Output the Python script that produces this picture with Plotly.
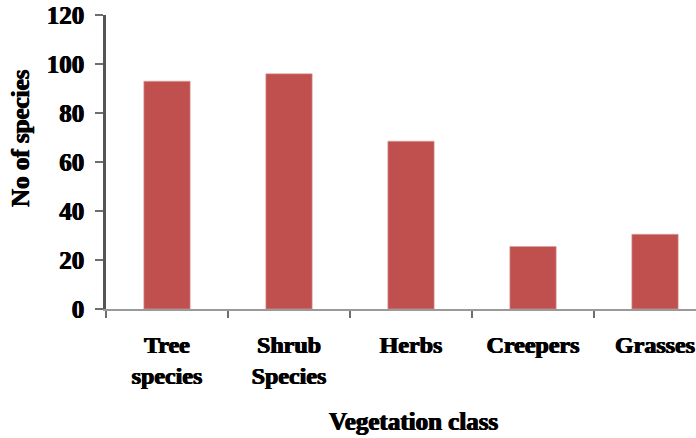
import plotly.graph_objects as go

# Number of species recorded in each vegetation class
categories = ["Tree<br>species", "Shrub<br>Species", "Herbs", "Creepers", "Grasses"]
species_counts = [93, 96, 68.5, 25.5, 30.5]
y_ticks = [0, 20, 40, 60, 80, 100, 120]

FONT = "'Liberation Serif', 'Times New Roman', Times, serif"
HEAVY = "0.6px 0 0 #000, -0.6px 0 0 #000"  # thickens the bold serif strokes
BAR_COLOR = "#C0504D"
AXIS_COLOR = "#6e6e6e"

W, H = 696, 438
ML, MR, MT, MB = 106, 0, 15, 129


def text_font(size):
    return dict(family=FONT, size=size, color="black", shadow=HEAVY)


fig = go.Figure(
    go.Bar(
        x=categories,
        y=species_counts,
        width=0.38,
        marker=dict(color=BAR_COLOR, line=dict(color="#d9a5a4", width=0.6)),
    )
)

fig.update_layout(
    width=W,
    height=H,
    margin=dict(l=ML, r=MR, t=MT, b=MB),
    paper_bgcolor="white",
    plot_bgcolor="white",
    showlegend=False,
    font=dict(family=FONT, size=23, color="black"),
    xaxis=dict(
        type="category",
        tickmode="array",
        tickvals=categories,
        ticktext=[f"<b>{c}</b>" for c in categories],
        range=[-0.5, 4.336],
        tickson="boundaries",
        ticks="outside",
        ticklen=7,
        tickwidth=2,
        tickcolor=AXIS_COLOR,
        showline=True,
        linecolor="#9a9a9a",
        linewidth=2,
        showgrid=False,
        zeroline=False,
        ticklabelstandoff=13,
        tickfont=text_font(24),
    ),
    yaxis=dict(
        range=[0, 120],
        tickmode="array",
        tickvals=y_ticks,
        ticktext=[f"<b>{v}</b>" for v in y_ticks],
        ticks="outside",
        ticklen=8,
        tickwidth=1.5,
        tickcolor=AXIS_COLOR,
        showline=True,
        linecolor="#555555",
        linewidth=2.5,
        showgrid=False,
        zeroline=False,
        ticklabelstandoff=6,
        tickfont=text_font(25),
    ),
)

# Axis titles
fig.add_annotation(
    text="<b>No of species</b>",
    textangle=-90,
    xref="paper", yref="paper",
    x=(20 - ML) / (W - ML - MR), y=(H - MB - 138) / (H - MT - MB),
    xanchor="center", yanchor="middle",
    showarrow=False,
    font=text_font(25),
)
fig.add_annotation(
    text="<b>Vegetation class</b>",
    xref="paper", yref="paper",
    x=(413 - ML) / (W - ML - MR), y=-(421 - (H - MB)) / (H - MT - MB),
    xanchor="center", yanchor="middle",
    showarrow=False,
    font=text_font(25),
)

fig.write_html("out.html")
